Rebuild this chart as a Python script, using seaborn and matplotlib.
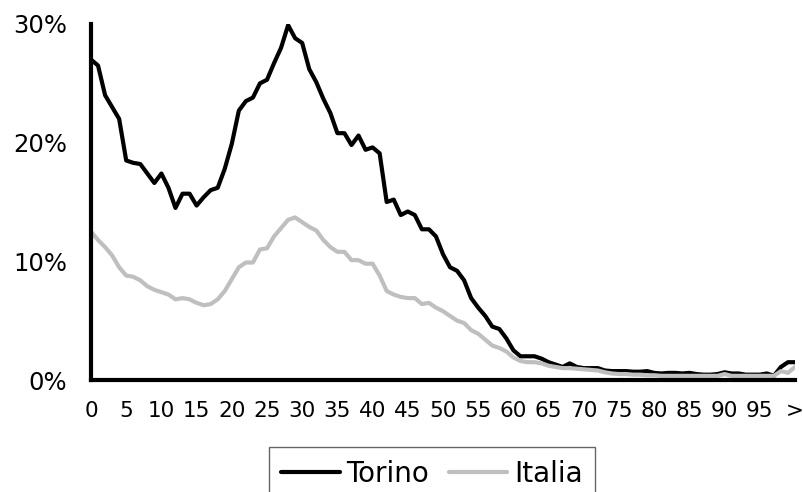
"""
Quota per età: Torino vs Italia (line chart, recreated with seaborn).
"""
import matplotlib
matplotlib.use('Agg')
import matplotlib.pyplot as plt
import numpy as np
import pandas as pd
import seaborn as sns

# Age classes 0..99 plus ">" (100 and over)
ages = list(range(0, 100)) + ['>']

# Values in percent
torino = [
    27.0, 26.5, 24.0, 23.0, 22.0, 18.5, 18.3, 18.2, 17.4, 16.6,
    17.4, 16.2, 14.5, 15.7, 15.7, 14.7, 15.4, 16.0, 16.2, 17.8,
    19.9, 22.7, 23.5, 23.8, 25.0, 25.3, 26.7, 28.0, 29.9, 28.8,
    28.4, 26.2, 25.1, 23.7, 22.5, 20.8, 20.8, 19.8, 20.6, 19.4,
    19.6, 19.1, 15.0, 15.2, 13.9, 14.2, 13.9, 12.7, 12.7, 12.1,
    10.6, 9.5, 9.2, 8.4, 6.9, 6.1, 5.4, 4.5, 4.3, 3.5,
    2.5, 2.0, 2.0, 2.0, 1.8, 1.5, 1.3, 1.1, 1.4, 1.1,
    1.0, 1.0, 1.0, 0.8, 0.75, 0.75, 0.75, 0.7, 0.7, 0.75,
    0.6, 0.55, 0.6, 0.6, 0.55, 0.6, 0.5, 0.45, 0.45, 0.5,
    0.65, 0.55, 0.55, 0.45, 0.45, 0.45, 0.55, 0.35, 1.1, 1.5,
    1.5,
]
italia = [
    12.5, 11.8, 11.2, 10.5, 9.5, 8.8, 8.7, 8.4, 7.9, 7.6,
    7.4, 7.2, 6.8, 6.9, 6.8, 6.5, 6.3, 6.4, 6.8, 7.5,
    8.5, 9.5, 9.9, 9.9, 11.0, 11.1, 12.1, 12.8, 13.5, 13.7,
    13.3, 12.9, 12.6, 11.8, 11.2, 10.8, 10.8, 10.1, 10.1, 9.8,
    9.8, 8.8, 7.5, 7.2, 7.0, 6.9, 6.9, 6.4, 6.5, 6.1,
    5.8, 5.4, 5.0, 4.8, 4.2, 3.9, 3.4, 2.9, 2.7, 2.4,
    1.9, 1.6, 1.5, 1.5, 1.4, 1.2, 1.1, 1.0, 1.0, 0.95,
    0.9, 0.85, 0.8, 0.65, 0.55, 0.5, 0.5, 0.45, 0.45, 0.4,
    0.4, 0.35, 0.35, 0.35, 0.35, 0.35, 0.35, 0.35, 0.35, 0.35,
    0.5, 0.35, 0.35, 0.35, 0.35, 0.35, 0.35, 0.35, 0.75, 0.6,
    1.1,
]

series_names = ['Torino', 'Italia']
series_colors = {'Torino': '#000000', 'Italia': '#BFBFBF'}

y_ticks = [0, 10, 20, 30]
y_ticklabels = ['0%', '10%', '20%', '30%']
x_tick_labels = [str(a) for a in ages if a == '>' or a % 5 == 0]

# Long-format data for seaborn
pos = np.arange(len(ages))
df = pd.concat([
    pd.DataFrame({'pos': pos, 'value': torino, 'serie': 'Torino'}),
    pd.DataFrame({'pos': pos, 'value': italia, 'serie': 'Italia'}),
], ignore_index=True)

sns.set_style('white')
plt.rcParams['font.family'] = ['DejaVu Sans']
plt.rcParams['text.color'] = '#000000'

fig = plt.figure(figsize=(8.04, 4.92), dpi=100)
ax = fig.add_axes([91 / 804, 1 - 380 / 492, (795 - 91) / 804, (380 - 24) / 492])

sns.lineplot(
    data=df, x='pos', y='value', hue='serie',
    hue_order=series_names, palette=series_colors,
    linewidth=3, ax=ax, legend=False,
)

ax.set_xlim(0, len(ages) - 1)
ax.set_ylim(0, 30)
ax.set_yticks(y_ticks)
ax.set_yticklabels(y_ticklabels)
tick_pos = [i for i, a in enumerate(ages) if a == '>' or a % 5 == 0]
ax.set_xticks(tick_pos)
ax.set_xticklabels(x_tick_labels)
ax.tick_params(axis='y', length=0, pad=17, labelsize=17.5, labelcolor='#000000')
ax.tick_params(axis='x', length=0, pad=15, labelsize=15.5, labelcolor='#000000')
ax.set_xlabel('')
ax.set_ylabel('')

for side in ('top', 'right'):
    ax.spines[side].set_visible(False)
for side in ('left', 'bottom'):
    ax.spines[side].set_visible(True)
    ax.spines[side].set_color('#000000')
    ax.spines[side].set_linewidth(3)
    ax.spines[side].set_capstyle('projecting')

handles = [plt.Line2D([], [], color=series_colors[s], linewidth=3) for s in series_names]
leg = fig.legend(
    handles, series_names,
    loc='upper center', bbox_to_anchor=(432 / 804, 1 - 447 / 492),
    ncol=2, fontsize=20, frameon=True, fancybox=False,
    handlelength=2.1, handletextpad=0.25, columnspacing=0.7,
    borderpad=0.45, borderaxespad=0, labelcolor='#000000',
)
leg.get_frame().set_edgecolor('#404040')
leg.get_frame().set_linewidth(1)

fig.savefig('out.png', dpi=100)
